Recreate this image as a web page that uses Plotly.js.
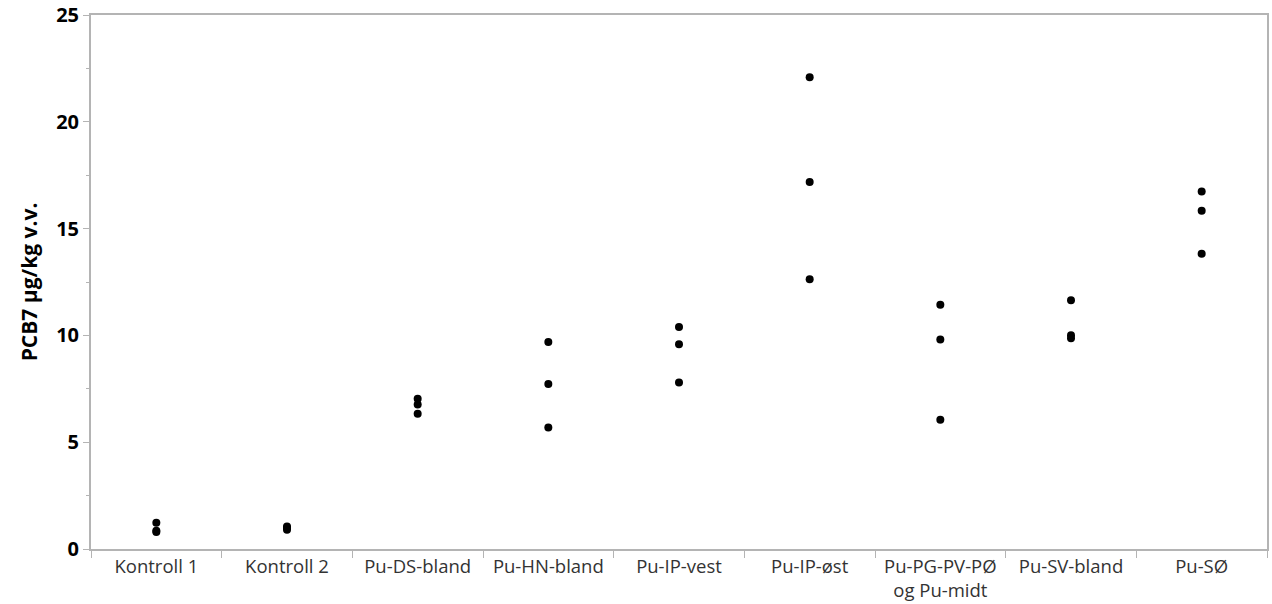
<!DOCTYPE html>
<html>
<head>
<meta charset="utf-8">
<script src="https://cdn.plot.ly/plotly-3.0.1.min.js"></script>
<style>html,body{margin:0;padding:0;background:#fff;}#chart{width:1272px;height:604px;}</style>
</head>
<body>
<div id="chart"></div>
<script>
const categories = ["Kontroll 1","Kontroll 2","Pu-DS-bland","Pu-HN-bland","Pu-IP-vest","Pu-IP-øst","Pu-PG-PV-PØ<br>og Pu-midt","Pu-SV-bland","Pu-SØ"];
const kontroll1 = [1.23, 0.85, 0.80];
const kontroll2 = [1.05, 0.98, 0.90];
const puDS = [7.03, 6.76, 6.33];
const puHN = [9.69, 7.73, 5.69];
const puIPvest = [10.39, 9.59, 7.79];
const puIPost = [22.08, 17.18, 12.63];
const puPG = [11.43, 9.81, 6.05];
const puSV = [11.65, 10.01, 9.87];
const puSO = [16.74, 15.83, 13.82];
const groups = [kontroll1, kontroll2, puDS, puHN, puIPvest, puIPost, puPG, puSV, puSO];

const xs = [], ys = [];
groups.forEach((g, i) => g.forEach(v => { xs.push(categories[i]); ys.push(v); }));

const trace = {
  type: 'scatter', mode: 'markers', x: xs, y: ys,
  marker: {color: '#000', size: 8}, hoverinfo: 'x+y', showlegend: false
};
const layout = {
  width: 1272, height: 604,
  margin: {l: 91, r: 5, t: 15, b: 55},
  paper_bgcolor: '#fff', plot_bgcolor: '#fff',
  font: {family: '"Open Sans", "DejaVu Sans", sans-serif', color: '#222'},
  xaxis: {
    type: 'category', categoryorder: 'array', categoryarray: categories,
    range: [-0.5, 8.5], showgrid: false, zeroline: false,
    showline: true, linecolor: '#b4b4b4', linewidth: 2, mirror: true,
    ticks: 'outside', tickson: 'boundaries', ticklen: 7, tickcolor: '#b4b4b4', tickwidth: 1,
    tickfont: {size: 18.5, color: '#333'}, ticklabeloverflow: 'allow'
  },
  yaxis: {
    range: [0, 25], dtick: 5, showgrid: false, zeroline: false,
    showline: true, linecolor: '#b4b4b4', linewidth: 2, mirror: true,
    ticks: 'outside', ticklen: 6, tickcolor: '#b4b4b4', tickwidth: 1,
    minor: {dtick: 2.5, ticks: 'outside', ticklen: 3, tickcolor: '#b4b4b4', showgrid: false},
    tickfont: {size: 20, color: '#000', weight: 'bold'}, ticklabeloverflow: 'allow',
    title: {text: 'PCB7 µg/kg v.v.', font: {size: 21, color: '#000', weight: 'bold'}, standoff: 13}
  }
};
Plotly.newPlot('chart', [trace], layout, {displayModeBar: false, staticPlot: true});
</script>
</body>
</html>
